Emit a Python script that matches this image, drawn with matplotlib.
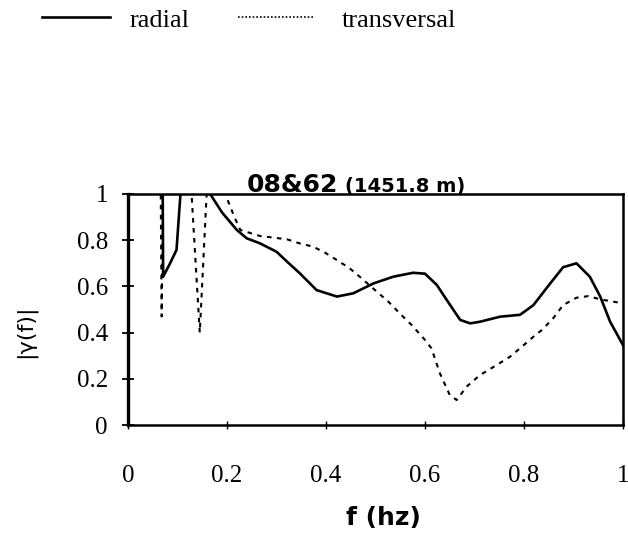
import matplotlib
matplotlib.use("Agg")
import matplotlib.pyplot as plt
from matplotlib.lines import Line2D

# coherence curves, |gamma(f)| against frequency
f_radial = [0.0, 0.060, 0.070, 0.071, 0.085, 0.098, 0.106, 0.130, 0.150, 0.166,
            0.190, 0.220, 0.240, 0.267, 0.300, 0.325, 0.347, 0.381, 0.422, 0.455,
            0.496, 0.536, 0.576, 0.600, 0.624, 0.644, 0.671, 0.691, 0.711, 0.752,
            0.792, 0.819, 0.853, 0.879, 0.906, 0.933, 0.954, 0.974, 1.0]
g_radial = [1.20, 1.10, 1.05, 0.642, 0.70, 0.758, 1.0, 1.30, 1.30, 1.0,
            0.92, 0.844, 0.808, 0.786, 0.750, 0.700, 0.657, 0.584, 0.556, 0.570,
            0.613, 0.642, 0.659, 0.655, 0.606, 0.541, 0.455, 0.440, 0.447, 0.469,
            0.477, 0.519, 0.613, 0.683, 0.700, 0.642, 0.556, 0.447, 0.346]

f_trans = [0.0, 0.066, 0.068, 0.071, 0.100, 0.127, 0.145, 0.160, 0.180, 0.200,
           0.215, 0.227, 0.267, 0.321, 0.347, 0.374, 0.398, 0.422, 0.448, 0.472,
           0.499, 0.526, 0.549, 0.573, 0.600, 0.613, 0.630, 0.650, 0.664, 0.684,
           0.711, 0.745, 0.772, 0.792, 0.819, 0.836, 0.859, 0.879, 0.906, 0.930,
           0.954, 0.980, 1.0]
g_trans = [1.20, 1.05, 0.470, 1.05, 1.30, 1.05, 0.400, 1.05, 1.30, 0.981,
           0.900, 0.844, 0.818, 0.804, 0.786, 0.772, 0.746, 0.714, 0.678, 0.635,
           0.584, 0.534, 0.483, 0.433, 0.368, 0.332, 0.224, 0.130, 0.108, 0.166,
           0.216, 0.260, 0.296, 0.332, 0.382, 0.411, 0.462, 0.519, 0.551, 0.558,
           0.544, 0.534, 0.527]

ticks = [0, 0.2, 0.4, 0.6, 0.8, 1]
tick_labels = ["0", "0.2", "0.4", "0.6", "0.8", "1"]

serif = "Liberation Serif"

fig = plt.figure(figsize=(6.28, 5.43), dpi=100)
ax = fig.add_axes([128 / 628, 1 - 425 / 543, 495 / 628, 231 / 543])

ax.plot(f_radial, g_radial, color="black", lw=1.9, solid_joinstyle="round")
ax.plot(f_trans, g_trans, color="black", lw=1.5, linestyle=(0, (2.2, 2.6)))

ax.set_xlim(0, 1)
ax.set_ylim(0, 1)
ax.set_xticks(ticks)
ax.set_xticklabels(tick_labels, fontfamily=serif, fontsize=18)
ax.set_yticks(ticks)
ax.set_yticklabels(tick_labels, fontfamily=serif, fontsize=18)
ax.tick_params(axis="y", direction="inout", length=9, width=1.3, pad=10)
ax.tick_params(axis="x", direction="inout", length=6, width=1.0, pad=26)

for sp in ax.spines.values():
    sp.set_linewidth(1.8)
ax.spines["left"].set_linewidth(2.4)

# title in two sizes
ax.text(0.424, 1.009, "08&62", transform=ax.transAxes, ha="right", va="baseline",
        fontfamily="DejaVu Sans", fontweight="bold", fontsize=18)
ax.text(0.438, 1.009, "(1451.8 m)", transform=ax.transAxes, ha="left", va="baseline",
        fontfamily="DejaVu Sans", fontweight="bold", fontsize=14)

ax.text(0.517, -0.403, "f (hz)", transform=ax.transAxes, ha="center", va="center",
        fontfamily="DejaVu Sans", fontweight="bold", fontsize=18)
ax.text(-0.208, 0.407, "|γ(f)|", transform=ax.transAxes, ha="center", va="center",
        rotation=90, fontfamily="DejaVu Sans", fontsize=16)

# two single-entry legends along the top
leg_kw = dict(frameon=False, loc="center left", prop={"family": serif, "size": 19},
              borderpad=0, borderaxespad=0)
leg1 = fig.legend([Line2D([], [], color="black", lw=1.9)], ["radial"],
                  bbox_to_anchor=(42 / 628, 1 - 20 / 543),
                  handlelength=2.58, handletextpad=0.75, **leg_kw)
leg2 = fig.legend([Line2D([], [], color="black", lw=1.2, linestyle=(0, (1, 1.2)))],
                  ["transversal"], bbox_to_anchor=(238 / 628, 1 - 20 / 543),
                  handlelength=2.92, handletextpad=1.0, **leg_kw)

fig.savefig("out.png", dpi=100)
